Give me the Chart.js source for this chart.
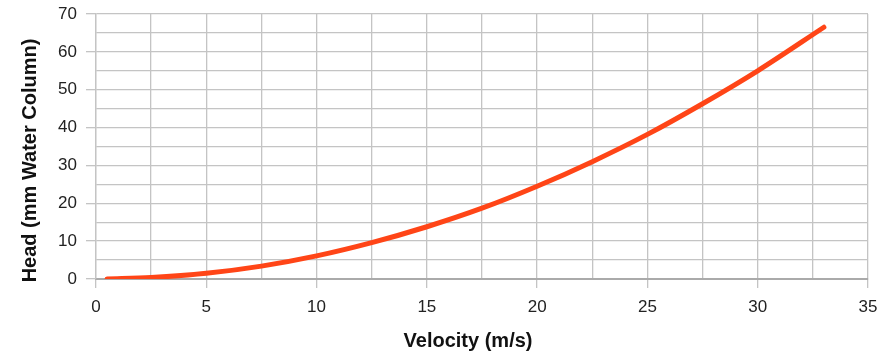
<!DOCTYPE html>
<html>
<head>
<meta charset="utf-8">
<script src="https://cdn.jsdelivr.net/npm/chart.js@4"></script>
<style>
  html, body { margin: 0; padding: 0; background: #fff; }
  #wrap { width: 884px; height: 364px; }
</style>
</head>
<body>
<div id="wrap"><canvas id="myChart" width="884" height="364"></canvas></div>
<script>
// values
const velocity = [0.5, 2.5, 5, 7.5, 10, 12.5, 15, 17.5, 20, 22.5, 25, 27.5, 30, 33];
const head = [0.0, 0.4, 1.5, 3.4, 6.1, 9.6, 13.8, 18.7, 24.5, 31.0, 38.2, 46.3, 55.0, 66.5];

const xTitle = 'Velocity (m/s)';
const yTitle = 'Head (mm Water Column)';

const gridColor = '#c4c4c4';
const fontFamily = 'Liberation Sans, Arial, sans-serif';
const tickFont = { family: fontFamily, size: 17 };

const points = velocity.map((v, i) => ({ x: v, y: head[i] }));

// axis titles sit a little off the plot centre in the original, so draw them here
const axisTitles = {
  id: 'axisTitles',
  afterDraw(chart) {
    const ctx = chart.ctx;
    const area = chart.chartArea;
    ctx.save();
    ctx.font = 'bold 20px ' + fontFamily;
    ctx.fillStyle = '#111';
    ctx.textAlign = 'center';
    ctx.textBaseline = 'middle';
    ctx.fillText(xTitle, (area.left + area.right) / 2 - 14, 341);
    ctx.translate(30, (area.top + area.bottom) / 2 + 14);
    ctx.rotate(-Math.PI / 2);
    ctx.fillText(yTitle, 0, 0);
    ctx.restore();
  }
};

const config = {
  type: 'scatter',
  data: {
    datasets: [{
      data: points,
      showLine: true,
      borderColor: '#ff4517',
      backgroundColor: '#ff4517',
      borderWidth: 5,
      borderCapStyle: 'round',
      pointRadius: 0,
      cubicInterpolationMode: 'monotone',
    }]
  },
  options: {
    responsive: false,
    animation: false,
    layout: { padding: { top: 14, right: 16, left: 0, bottom: 0 } },
    plugins: {
      legend: { display: false },
      tooltip: { enabled: false }
    },
    scales: {
      x: {
        type: 'linear',
        min: 0,
        max: 35,
        afterFit: (s) => { s.height = 85; s.paddingLeft = 0; s.paddingRight = 0; },
        ticks: {
          stepSize: 2.5,
          autoSkip: false,
          maxRotation: 0,
          padding: 9,
          color: '#222',
          font: tickFont,
          callback: (v) => (v % 5 === 0 ? v : '')
        },
        grid: {
          color: gridColor,
          lineWidth: 1.3,
          tickLength: 9,
          tickColor: (ctx) => (ctx.tick && ctx.tick.value % 5 === 0 ? gridColor : 'rgba(0,0,0,0)')
        },
        border: { color: '#aaa', width: 2 }
      },
      y: {
        type: 'linear',
        min: 0,
        max: 70,
        afterFit: (s) => { s.width = 96; s.paddingTop = 0; s.paddingBottom = 0; },
        ticks: {
          stepSize: 5,
          autoSkip: false,
          padding: 9,
          color: '#222',
          font: tickFont,
          callback: (v) => (v % 10 === 0 ? v : '')
        },
        grid: {
          color: gridColor,
          lineWidth: 1.3,
          tickLength: 10,
          tickColor: (ctx) => (ctx.tick && ctx.tick.value % 10 === 0 ? gridColor : 'rgba(0,0,0,0)')
        },
        border: { color: gridColor, width: 1.3 }
      }
    }
  },
  plugins: [axisTitles]
};

var myChart = new Chart(document.getElementById('myChart'), config);
</script>
</body>
</html>
